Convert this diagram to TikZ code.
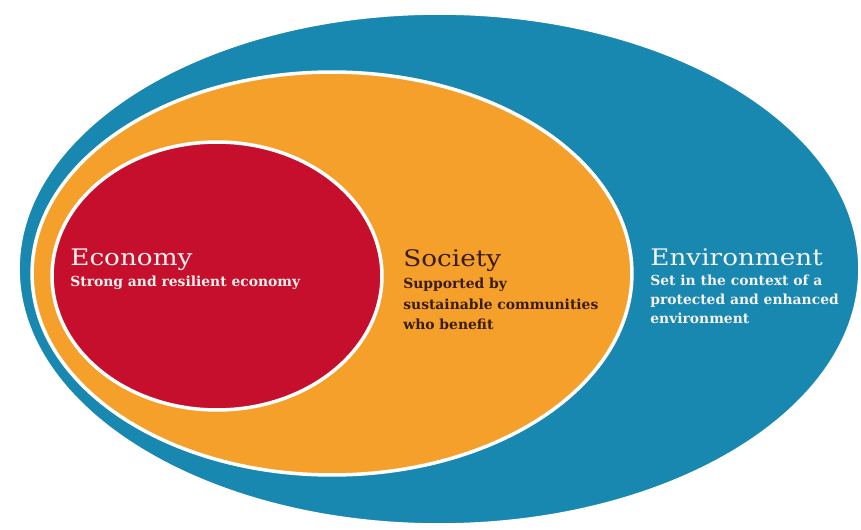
\documentclass[tikz,border=0pt]{standalone}
\usepackage{fontspec}
\setmainfont{DejaVu Serif}
\newfontfamily\titlefont[FakeStretch=1.15]{DejaVu Serif}
\usetikzlibrary{shapes.geometric}
\definecolor{envblue}{HTML}{1888B1}
\definecolor{socorange}{HTML}{F5A02B}
\definecolor{ecored}{HTML}{C60F2D}
\definecolor{soctext}{HTML}{3A1C0C}
\definecolor{lighttext}{HTML}{F4F1EE}
\tikzset{
  ring/.style={ellipse, draw=white, line width=2pt, inner sep=0pt},
  heading/.style={anchor=base west, inner sep=0pt, font=\titlefont\fontsize{13}{15}\selectfont},
  blurb/.style={anchor=north west, inner sep=0pt, align=left, font=\bfseries\fontsize{7.9}{11.2}\selectfont}
}
\begin{document}
\begin{tikzpicture}[x=0.02cm, y=-0.02cm]
  \useasboundingbox (0,0) rectangle (861,530);
  % nested circles
  \node[ring, fill=envblue, minimum width=16.84cm, minimum height=10.24cm] (env) at (439,269) {};
  \node[ring, fill=socorange, minimum width=12cm, minimum height=8.06cm] (soc) at (332,273.5) {};
  \node[ring, fill=ecored, minimum width=6.6cm, minimum height=5.36cm] (eco) at (217,276) {};
  % labels
  \node[heading, text=lighttext] (ecotitle) at (70,265) {Economy};
  \node[blurb, text=lighttext] (ecotext) at (70,276) {Strong and resilient economy};
  \node[heading, text=soctext] (soctitle) at (403,266.5) {Society};
  \node[blurb, text=soctext, font=\bfseries\fontsize{7.9}{11.8}\selectfont] (soctext) at (403,277.5) {Supported by\\sustainable communities\\who benefit};
  \node[heading, text=lighttext] (envtitle) at (650,265.5) {Environment};
  \node[blurb, text=lighttext, font=\bfseries\fontsize{7.9}{10.6}\selectfont] (envtext) at (650,275) {Set in the context of a\\protected and enhanced\\environment};
\end{tikzpicture}
\end{document}
